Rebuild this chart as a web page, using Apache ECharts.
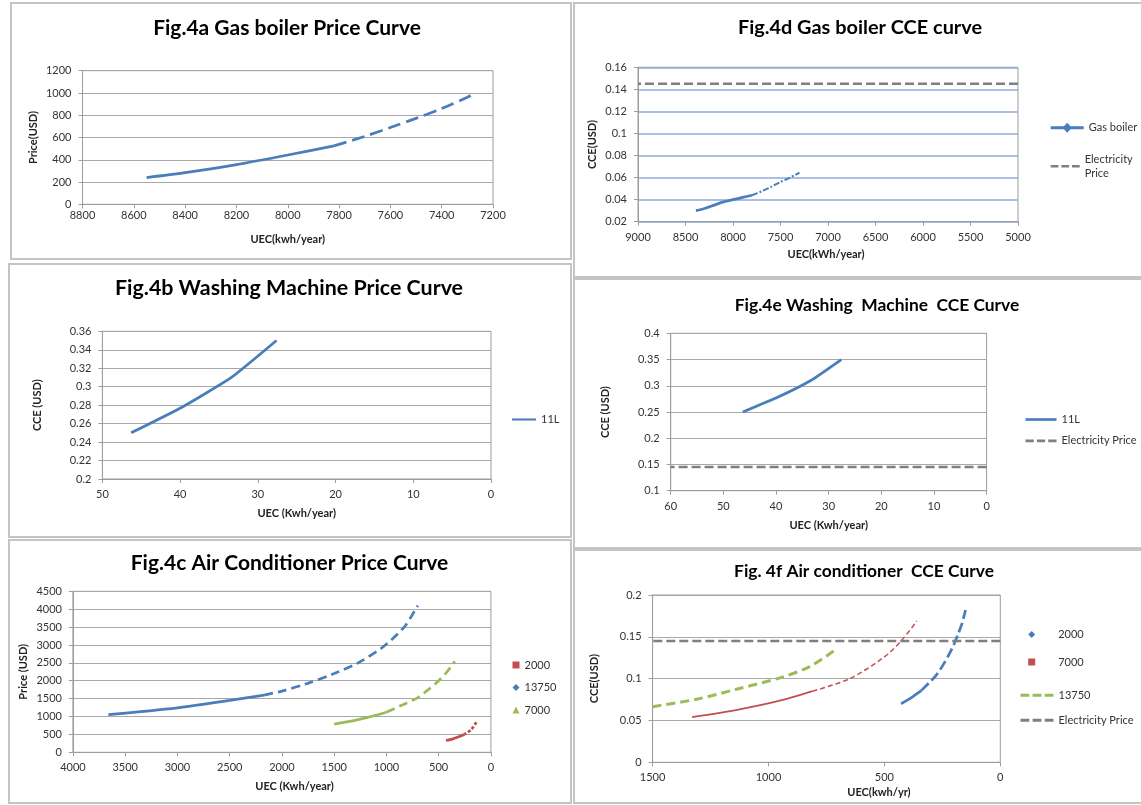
<!DOCTYPE html>
<html>
<head>
<meta charset="utf-8">
<title>Fig.4 Price and CCE curves</title>
<script src="https://cdn.jsdelivr.net/npm/echarts@6/dist/echarts.min.js"></script>
<style>
  html, body { margin: 0; padding: 0; background: #ffffff; }
  #chart { width: 1141px; height: 805px; }
</style>
</head>
<body>
<div id="chart"></div>
<script>
// ---------- data: [UEC, value] pairs ----------
// Fig.4a Gas boiler price (USD) vs UEC (kwh/year)
const gasPriceMeasured  = [[8550, 240], [8400, 284], [8200, 356], [8000, 443], [7820, 525]];
const gasPriceProjected = [[7820, 525], [7700, 610], [7600, 690], [7500, 772], [7400, 860], [7300, 962], [7270, 1000]];

// Fig.4b / 4e Washing machine 11L CCE (USD) vs UEC (Kwh/year)
const washer11L = [[46.3, 0.25], [39.7, 0.278], [33.4, 0.31], [27.6, 0.35]];

// Fig.4c Air conditioner price (USD) vs UEC (Kwh/year)
const ac13750PriceMeasured  = [[3660, 1050], [3000, 1240], [2500, 1450], [2170, 1600]];
const ac13750PriceProjected = [[2170, 1600], [2000, 1710], [1760, 1920], [1500, 2200], [1270, 2500], [1030, 2950], [830, 3500], [730, 3950], [700, 4100]];
const ac7000PriceMeasured   = [[1500, 790], [1300, 890], [1200, 960], [1000, 1120]];
const ac7000PriceProjected  = [[1000, 1120], [850, 1320], [700, 1530], [600, 1750], [500, 2000], [420, 2250], [345, 2540]];
const ac2000PriceMeasured   = [[430, 330], [370, 370], [320, 420], [260, 490]];
const ac2000PriceProjected  = [[260, 490], [190, 630], [140, 840]];

// Fig.4d Gas boiler CCE (USD) vs UEC (kWh/year)
const gasCceMeasured  = [[8390, 0.030], [8300, 0.032], [8200, 0.035], [8100, 0.038], [8000, 0.040], [7900, 0.042], [7800, 0.044]];
const gasCceProjected = [[7800, 0.044], [7700, 0.0475], [7600, 0.0515], [7500, 0.056], [7400, 0.060], [7300, 0.0645]];

// Fig.4f Air conditioner CCE (USD) vs UEC (kwh/yr)
const ac13750Cce          = [[1500, 0.0665], [1305, 0.0757], [1134, 0.0877], [947, 0.1012], [822, 0.1144], [715, 0.134]];
const ac7000CceMeasured   = [[1330, 0.054], [1130, 0.063], [960, 0.073], [810, 0.085]];
const ac7000CceProjected  = [[810, 0.085], [650, 0.100], [500, 0.126], [425, 0.146], [360, 0.169]];
const ac2000CceMeasured   = [[428, 0.070], [380, 0.078], [340, 0.086]];
const ac2000CceProjected  = [[340, 0.086], [300, 0.097], [277, 0.104], [250, 0.115], [223, 0.128], [200, 0.141], [184, 0.152], [165, 0.166], [150, 0.182]];

// Electricity price reference (USD/kWh)
const electricityPrice = 0.145;

// Axis ranges [min, max, interval]
const axisA = { x: [7200, 8800, 200], y: [0, 1200, 200] };
const axisB = { x: [0, 50, 10],       y: [0.2, 0.36, 0.02] };
const axisC = { x: [0, 4000, 500],    y: [0, 4500, 500] };
const axisD = { x: [5000, 9000, 500], y: [0.02, 0.16, 0.02] };
const axisE = { x: [0, 60, 10],       y: [0.1, 0.4, 0.05] };
const axisF = { x: [0, 1500, 500],    y: [0, 0.2, 0.05] };

// ---------- styling ----------
const FONT = 'Lato, "Liberation Sans", sans-serif';
const BLUE = '#4a7ebb', RED = '#c0504d', GREEN = '#9bbb59', DASH_GREY = '#7f7f7f';
const AXIS_GREY = '#9d9d9d', GRID_GREY = '#a8a8a8', GRID_BLUE = '#8eabd8';
const LABEL_COLOR = '#333333';

// legend glyphs
const ICON_LINE = 'path://M0,0H30V2.6H0Z';
const ICON_DASH = 'path://M0,0H8V2.6H0Z M11,0H19V2.6H11Z M22,0H30V2.6H22Z';
const ICON_LINE_DIAMOND = 'path://M0,3.7H30V6.3H0Z M15,0.5L19.2,5L15,9.5L10.8,5Z';

function tickText(v) { return String(parseFloat(Number(v).toFixed(4))); }

// grid rectangles: left, top, width, height
const grids = [
  { left: 82.5,  top: 70.7,  width: 410.5, height: 133.6 }, // a
  { left: 102.4, top: 331.3, width: 388.6, height: 147.7 }, // b
  { left: 72.9,  top: 591.3, width: 418,   height: 161 },   // c
  { left: 638,   top: 67.3,  width: 380,   height: 154.4 }, // d
  { left: 670.7, top: 333.3, width: 315.9, height: 157.4 }, // e
  { left: 652.6, top: 595,   width: 347.7, height: 167.3 }  // f
].map(g => Object.assign({ containLabel: false, show: true, borderColor: AXIS_GREY, borderWidth: 1, backgroundColor: 'transparent' }, g));

function xAxis(gridIndex, range, name, nameGap, shift, labelMargin) {
  return {
    gridIndex, type: 'value', min: range[0], max: range[1], interval: range[2], inverse: true,
    axisLine: { show: true, onZero: false, lineStyle: { color: AXIS_GREY, width: 1 } },
    axisTick: { show: true, length: 4, lineStyle: { color: AXIS_GREY } },
    splitLine: { show: false },
    axisLabel: { margin: labelMargin, fontSize: 11, color: LABEL_COLOR, fontFamily: FONT, formatter: tickText },
    name, nameLocation: 'middle', nameGap,
    nameTextStyle: { fontFamily: FONT, fontSize: 11, fontWeight: 'bold', color: '#222', padding: shift >= 0 ? [0, 0, 0, 2 * shift] : [0, -2 * shift, 0, 0] }
  };
}

function yAxis(gridIndex, range, name, nameGap, gridColor, gridWidth) {
  return {
    gridIndex, type: 'value', min: range[0], max: range[1], interval: range[2], position: 'left',
    axisLine: { show: true, onZero: false, lineStyle: { color: AXIS_GREY, width: 1 } },
    axisTick: { show: true, length: 4, lineStyle: { color: AXIS_GREY } },
    splitLine: { show: true, lineStyle: { color: gridColor, width: gridWidth } },
    axisLabel: { margin: 11, fontSize: 11, color: LABEL_COLOR, fontFamily: FONT, formatter: tickText },
    name, nameLocation: 'middle', nameGap,
    nameTextStyle: { fontFamily: FONT, fontSize: 11, fontWeight: 'bold', color: '#222' }
  };
}

const xAxes = [
  xAxis(0, axisA.x, 'UEC(kwh/year)', 30, 0, 6),
  xAxis(1, axisB.x, 'UEC (Kwh/year)', 29, 0, 10),
  xAxis(2, axisC.x, 'UEC (Kwh/year)', 29, 12.6, 10),
  xAxis(3, axisD.x, 'UEC(kWh/year)', 27, -2, 10),
  xAxis(4, axisE.x, 'UEC (Kwh/year)', 29, 0, 10),
  xAxis(5, axisF.x, 'UEC(kwh/yr)', 24.5, 52.5, 10)
];
const yAxes = [
  yAxis(0, axisA.y, 'Price(USD)', 44, GRID_GREY, 1),
  yAxis(1, axisB.y, 'CCE (USD)', 59, GRID_GREY, 1),
  yAxis(2, axisC.y, 'Price (USD)', 44, GRID_GREY, 1),
  yAxis(3, axisD.y, 'CCE(USD)', 40.5, GRID_BLUE, 1.5),
  yAxis(4, axisE.y, 'CCE (USD)', 60, GRID_GREY, 1),
  yAxis(5, axisF.y, 'CCE(USD)', 53, GRID_GREY, 1)
];

function line(name, gridIndex, data, color, width, type, extra) {
  return Object.assign({
    name, type: 'line', xAxisIndex: gridIndex, yAxisIndex: gridIndex, data,
    symbol: 'none', showSymbol: false, smooth: 0.3, clip: true, silent: true,
    lineStyle: { color, width, type: type || 'solid', cap: 'butt' },
    itemStyle: { color }
  }, extra || {});
}

function priceLine(gridIndex, range) {
  return line('Electricity Price', gridIndex,
    [[range[0], electricityPrice], [range[1], electricityPrice]],
    DASH_GREY, 2.5, [9, 4], { smooth: false });
}

const series = [
  // a
  line('Gas boiler price', 0, gasPriceMeasured, BLUE, 2.75),
  line('Gas boiler price projected', 0, gasPriceProjected, BLUE, 2.75, [13, 6]),
  // b
  line('11L', 1, washer11L, BLUE, 2.75, 'solid', { smooth: 0.15 }),
  // c
  line('13750', 2, ac13750PriceMeasured, BLUE, 2.75),
  line('13750 projected', 2, ac13750PriceProjected, BLUE, 2.75, [9, 5]),
  line('7000', 2, ac7000PriceMeasured, GREEN, 2.75),
  line('7000 projected', 2, ac7000PriceProjected, GREEN, 2.75, [9, 5]),
  line('2000', 2, ac2000PriceMeasured, RED, 2.75),
  line('2000 projected', 2, ac2000PriceProjected, RED, 2.75, [3, 2]),
  // d
  line('Gas boiler', 3, gasCceMeasured, BLUE, 2.75),
  line('Gas boiler projected', 3, gasCceProjected, BLUE, 2, [6, 2, 2, 2]),
  priceLine(3, axisD.x),
  // e
  line('11L', 4, washer11L, BLUE, 2.75, 'solid', { smooth: 0.15 }),
  priceLine(4, axisE.x),
  // f
  line('CCE 13750', 5, ac13750Cce, GREEN, 3, [9, 5]),
  line('CCE 7000', 5, ac7000CceMeasured, RED, 1.8),
  line('CCE 7000 projected', 5, ac7000CceProjected, RED, 1.5, [5, 3]),
  line('CCE 2000', 5, ac2000CceMeasured, BLUE, 2.75),
  line('CCE 2000 projected', 5, ac2000CceProjected, BLUE, 2.75, [10, 4]),
  priceLine(5, axisF.x)
];

const legendText = { fontFamily: FONT, fontSize: 11, color: '#333333' };
const legends = [
  // b
  { left: 512, top: 414, itemWidth: 24, itemHeight: 12,
    data: [{ name: '11L', icon: ICON_LINE, itemStyle: { color: BLUE } }] },
  // c
  { left: 512.5, top: 659.5, orient: 'vertical', itemWidth: 7, itemHeight: 7, itemGap: 11.5,
    data: [
      { name: '2000', icon: 'rect', itemStyle: { color: RED } },
      { name: '13750', icon: 'diamond', itemStyle: { color: BLUE } },
      { name: '7000', icon: 'triangle', itemStyle: { color: GREEN } }
    ] },
  // d
  { left: 1050.7, top: 122.3, itemWidth: 33, itemHeight: 12,
    data: [{ name: 'Gas boiler', icon: ICON_LINE_DIAMOND, itemStyle: { color: BLUE } }] },
  { left: 1050.7, top: 145.3, itemWidth: 29, itemHeight: 12,
    data: [{ name: 'Electricity Price', icon: ICON_DASH, itemStyle: { color: DASH_GREY } }],
    formatter: () => 'Electricity\nPrice',
    textStyle: Object.assign({}, legendText, { lineHeight: 14, padding: [14, 0, 0, 0] }) },
  // e
  { left: 1025.5, top: 414, orient: 'vertical', itemWidth: 31, itemHeight: 12, itemGap: 10.3,
    data: [
      { name: '11L', icon: ICON_LINE, itemStyle: { color: BLUE } },
      { name: 'Electricity Price', icon: ICON_DASH, itemStyle: { color: DASH_GREY } }
    ] },
  // f
  { left: 1028.2, top: 629, orient: 'vertical', itemWidth: 7, itemHeight: 7, itemGap: 16.5,
    data: [
      { name: 'CCE 2000', icon: 'diamond', itemStyle: { color: BLUE } },
      { name: 'CCE 7000', icon: 'rect', itemStyle: { color: RED } }
    ],
    formatter: n => n.replace('CCE ', ''),
    textStyle: Object.assign({}, legendText, { padding: [0, 0, 0, 18] }) },
  { left: 1020.5, top: 689.7, orient: 'vertical', itemWidth: 33, itemHeight: 12, itemGap: 14,
    data: [
      { name: 'CCE 13750', icon: ICON_DASH, itemStyle: { color: GREEN } },
      { name: 'Electricity Price', icon: ICON_DASH, itemStyle: { color: DASH_GREY } }
    ],
    formatter: n => n.replace('CCE ', '') }
].map(l => Object.assign({ padding: 0, selectedMode: false, textStyle: legendText }, l));

function title(text, cx, cy, size) {
  return { text, left: cx, top: cy, textAlign: 'center', textVerticalAlign: 'middle', padding: 0,
    textStyle: { fontFamily: FONT, fontSize: size, fontWeight: 'bold', color: '#000000' } };
}
const titles = [
  title('Fig.4a Gas boiler Price Curve', 287, 28, 21),
  title('Fig.4b Washing Machine Price Curve', 289, 288, 21.4),
  title('Fig.4c Air Conditioner Price Curve', 289.5, 563, 21),
  title('Fig.4d Gas boiler CCE curve', 860, 27.7, 19.9),
  title('Fig.4e Washing  Machine  CCE Curve', 877, 305, 17.4),
  title('Fig. 4f Air conditioner  CCE Curve', 864, 571.7, 17.4)
];

// panel frames
const frames = [
  [11, 3, 560, 256], [9, 264, 562, 273], [9, 540, 562, 263],
  [574, 3, 572, 274], [574, 279, 572, 269], [574, 550, 572, 253]
].map(r => ({ type: 'rect', silent: true, z: -1,
  shape: { x: r[0], y: r[1], width: r[2], height: r[3] },
  style: { fill: 'none', stroke: '#c4c4c4', lineWidth: 2 } }));

const chart = echarts.init(document.getElementById('chart'), null, { renderer: 'canvas' });
chart.setOption({
  animation: false,
  backgroundColor: '#ffffff',
  textStyle: { fontFamily: FONT },
  title: titles,
  grid: grids,
  xAxis: xAxes,
  yAxis: yAxes,
  legend: legends,
  series,
  graphic: frames
});
</script>
</body>
</html>
